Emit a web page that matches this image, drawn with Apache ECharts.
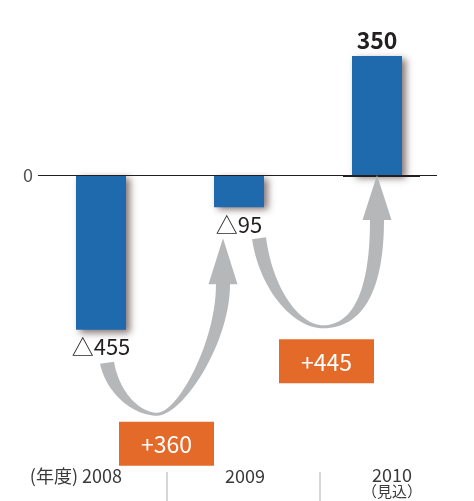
<!DOCTYPE html>
<html><head><meta charset="utf-8">
<script src="https://cdn.jsdelivr.net/npm/echarts@6/dist/echarts.min.js"></script>
<style>html,body{margin:0;padding:0;background:#fff}#c{width:474px;height:501px}</style>
</head><body><div id="c"></div>
<script>
// ---- data ----
const categories = ['2008', '2009', '2010'];
const categoryPrefix = ['(年度) ', '', ''];
const categorySuffix = ['', '', '（見込）'];
const profit = [-455, -95, 350];
const yTickLabels = ['0'];

// ---- style ----
const BLUE = '#1f6aad', ORANGE = '#e46a29', GRAY = '#b6b7b9', INK = '#231f20';
const FONT = '"Noto Sans CJK JP", "Noto Sans", sans-serif';

const chart = echarts.init(document.getElementById('c'), null, {renderer: 'canvas'});

function fmt(v) { return v < 0 ? '△' + (-v) : String(v); }

chart.setOption({
  animation: false,
  grid: {left: 32, right: 28, top: 5, bottom: 54},
  xAxis: {type: 'category', data: categories, axisLine: {show: false}, axisTick: {show: false}, axisLabel: {show: false}},
  yAxis: {type: 'value', min: -800, max: 500, interval: 100, axisLine: {show: false}, axisTick: {show: false},
          splitLine: {show: false}, axisLabel: {show: false}},
  series: [{
    type: 'bar', barWidth: 50, z: 3,
    itemStyle: {color: BLUE, shadowBlur: 7, shadowColor: 'rgba(70,45,45,0.65)', shadowOffsetX: 4, shadowOffsetY: 3},
    data: profit.map(v => ({
      value: v,
      label: v >= 0
        ? {show: true, position: 'top', distance: 4, formatter: fmt(v), fontFamily: FONT, fontSize: 23, fontWeight: 'bold', color: INK}
        : {show: true, position: 'bottom', distance: 6, formatter: fmt(v), fontFamily: FONT, fontSize: 22, color: INK}
    }))
  }]
});

// ---- decorations derived from the axes ----
function px(i, v) { return chart.convertToPixel({xAxisIndex: 0, yAxisIndex: 0}, [i, v]); }
const zeroY = px(0, 0)[1];
const bx = categories.map((c, i) => px(i, 0)[0]);
const bEnd = profit.map((v, i) => px(i, v)[1]);

function cubic(p0, c1, c2, p3, t) {
  const u = 1 - t;
  return [u*u*u*p0[0] + 3*u*u*t*c1[0] + 3*u*t*t*c2[0] + t*t*t*p3[0],
          u*u*u*p0[1] + 3*u*u*t*c1[1] + 3*u*t*t*c2[1] + t*t*t*p3[1]];
}
function arm(p0, p3, a, b) {
  const dx = p3[0] - p0[0], dy = p3[1] - p0[1];
  return [p0, [p0[0] + a*dx, p0[1] + b*dy], [p3[0] - 0.4*dx, p3[1]], p3];
}
function rise(q0, q3, a, b) {
  const dx = q3[0] - q0[0], dy = q0[1] - q3[1];
  return [q0, [q0[0] + a*dx, q0[1]], [q3[0], q3[1] + b*dy], q3];
}
function sample(c, rev) {
  const pts = [];
  for (let k = 0; k <= 30; k++) { const t = rev ? 1 - k/30 : k/30; pts.push(cubic(c[0], c[1], c[2], c[3], t)); }
  return pts;
}
function arrowPoly(S, B, T, headLen, ra, rb) {
  const w = 14, hw = 14.5, Hy = T[1] + headLen, Hx = T[0];
  const outL = arm([S[0] - w/2, S[1] + 1], [B[0], B[1] + 1], 0.12, 0.6);
  const outR = rise([B[0], B[1] + 1], [Hx + w/2, Hy], ra, rb);
  const inL = arm([S[0] + w/2, S[1] - 1], [B[0], B[1] - 2], 0.12, 0.6);
  const inR = rise([B[0], B[1] - 2], [Hx - w/2, Hy], ra, rb);
  return [].concat(sample(outL), sample(outR),
    [[Hx + hw, Hy], T, [Hx - hw, Hy]],
    sample(inR, true), sample(inL, true));
}

const diffs = profit.slice(1).map((v, i) => v - profit[i]);

const S1 = [bx[0] + 6, bEnd[0] + 33], B1 = [S1[0] + 50, S1[1] + 52], T1 = [bx[1] - 16, bEnd[1] + 31];
const S2 = [bx[1] + 20, bEnd[1] + 31], B2 = [S2[0] + 64, S2[1] + 89], T2 = [bx[2], zeroY];
const boxes = [[B1[0] + 9.5, B1[1] + 29], [B2[0] + 3.5, B2[1] + 34]];

const gridBottom = px(0, -800)[1];
const labelY = gridBottom + 29;
const LBL = '#3a3a3a';
const g = [];
g.push({type: 'line', z: 10, shape: {x1: bx[0] - 63, y1: zeroY + 0.5, x2: bx[2] + 60, y2: zeroY + 0.5}, style: {stroke: INK, lineWidth: 1}});
g.push({type: 'line', z: 10, shape: {x1: bx[2] - 34, y1: zeroY + 1, x2: bx[2] + 43, y2: zeroY + 1}, style: {stroke: INK, lineWidth: 2}});
g.push({type: 'text', z: 10, x: bx[0] - 68, y: zeroY, style: {text: yTickLabels[0], font: '18px ' + FONT, fill: '#555', align: 'right', verticalAlign: 'middle'}});
g.push({type: 'polygon', z: 20, shape: {points: arrowPoly(S1, B1, T1, 46, 0.35, 0.45)}, style: {fill: GRAY}});
g.push({type: 'polygon', z: 20, shape: {points: arrowPoly(S2, B2, T2, 45, 0.6, 0.7)}, style: {fill: GRAY}});
diffs.forEach((d, i) => {
  const c = boxes[i];
  g.push({type: 'rect', z: 20, shape: {x: c[0] - 47.5, y: c[1] - 22, width: 95, height: 44}, style: {fill: ORANGE}});
  g.push({type: 'text', z: 21, x: c[0], y: c[1] + 1, style: {text: '+' + d, font: '23px ' + FONT, fill: '#fff', align: 'center', verticalAlign: 'middle'}});
});
g.push({type: 'text', z: 10, x: bx[0] + 21, y: labelY, style: {text: categoryPrefix[0] + categories[0], font: '18px ' + FONT, fill: LBL, align: 'right', verticalAlign: 'middle'}});
g.push({type: 'text', z: 10, x: bx[1] + 6, y: labelY, style: {text: categories[1], font: '18px ' + FONT, fill: LBL, align: 'center', verticalAlign: 'middle'}});
g.push({type: 'text', z: 10, x: bx[2] + 15, y: labelY - 1, style: {text: categories[2], font: '18px ' + FONT, fill: LBL, align: 'center', verticalAlign: 'middle'}});
g.push({type: 'text', z: 10, x: bx[2] + 15, y: labelY + 15, style: {text: categorySuffix[2], font: '15px ' + FONT, fill: LBL, align: 'center', verticalAlign: 'middle'}});
[bx[1] - 72, bx[1] + 81].forEach(x => g.push({type: 'line', z: 10, shape: {x1: x, y1: gridBottom + 25, x2: x, y2: 501}, style: {stroke: '#c8c8c8', lineWidth: 1.5}}));

chart.setOption({graphic: g});
</script></body></html>
